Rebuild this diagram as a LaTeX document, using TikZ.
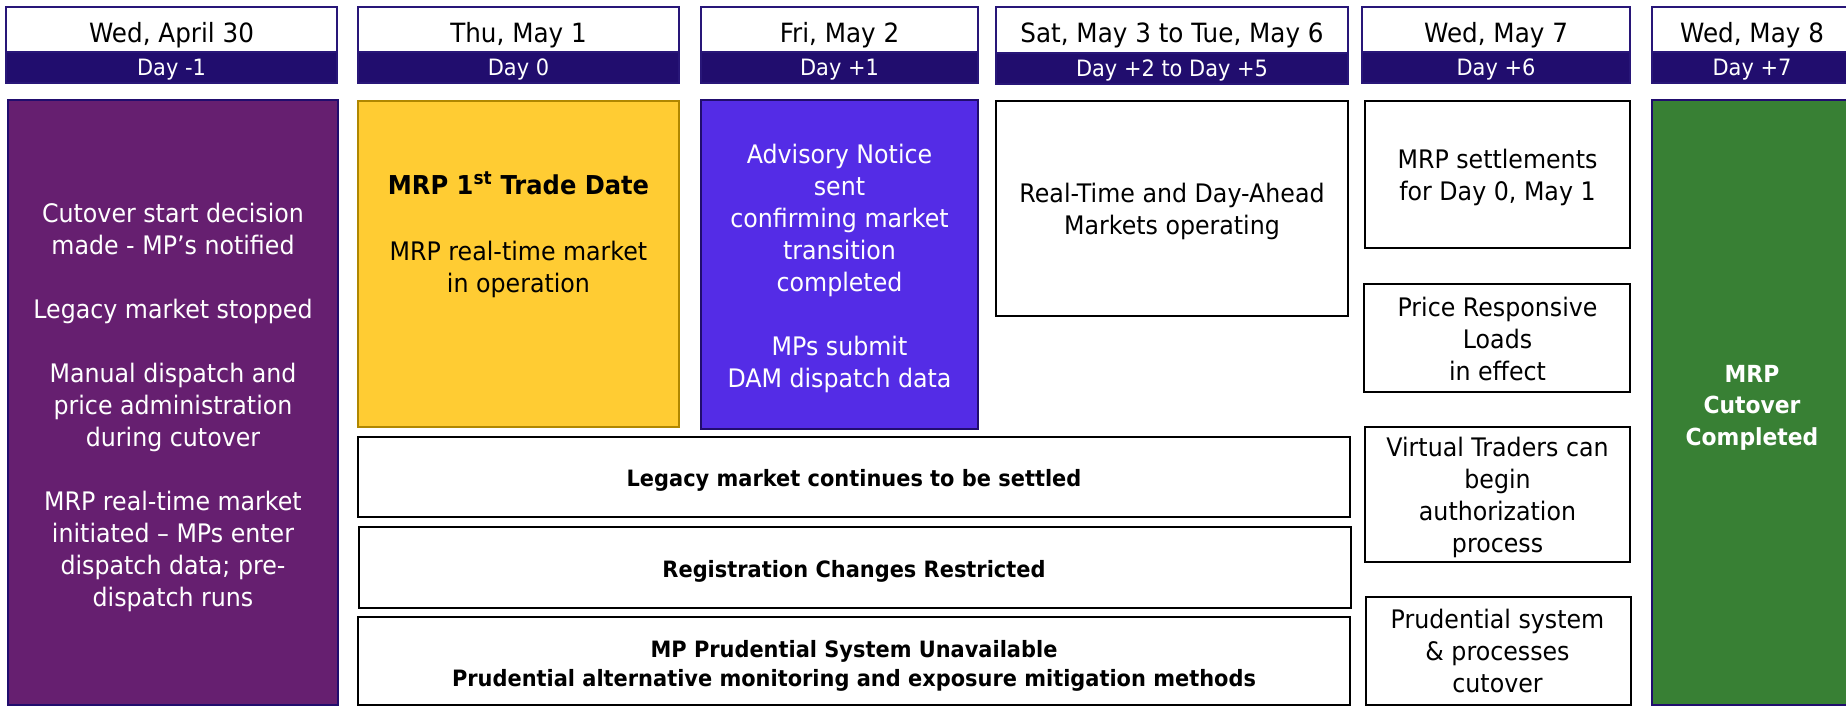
\documentclass[tikz,border=0pt]{standalone}
\usepackage{fontspec}
\setmainfont{DejaVu Sans}[FakeStretch=0.93]
\definecolor{navy}{RGB}{33,13,110}
\definecolor{navyedge}{RGB}{40,22,120}
\definecolor{purplebox}{RGB}{102,31,112}
\definecolor{yellowbox}{RGB}{255,204,51}
\definecolor{yellowedge}{RGB}{176,135,0}
\definecolor{bluebox}{RGB}{84,44,230}
\definecolor{greenbox}{RGB}{56,128,52}
\begin{document}
\begin{tikzpicture}[x=1pt,y=-1pt,
  shape box/.style={rectangle, inner sep=0pt, outer sep=0pt, anchor=north west},
  hdr/.style={shape box, draw=navyedge, line width=1.5pt, fill=white},
  dayband/.style={shape box, draw=navyedge, line width=1.5pt, fill=navy},
  wbox/.style={shape box, draw=black, line width=2pt, fill=white},
  pbox/.style={shape box, draw=navy, line width=2pt, fill=purplebox},
  ybox/.style={shape box, draw=yellowedge, line width=1.5pt, fill=yellowbox},
  bbox/.style={shape box, draw=navy, line width=2pt, fill=bluebox},
  gbox/.style={shape box, draw=navy, line width=2pt, fill=greenbox},
  datetxt/.style={anchor=base, inner sep=0pt, font=\fontsize{26.5}{32}\selectfont},
  daytxt/.style={anchor=base, inner sep=0pt, text=white, font=\fontsize{22.5}{28}\selectfont},
  bodytxt/.style={anchor=base, inner sep=0pt, align=center, font=\fontsize{25.5}{32}\selectfont},
  boldtxt/.style={anchor=base, inner sep=0pt, align=center, font=\fontsize{22.5}{29}\selectfont\bfseries},
]
\useasboundingbox (0,0) rectangle (1846,706);
\clip (0,0) rectangle (1846,706);

% headers
\node[hdr, minimum width=331pt, minimum height=76pt] (h1) at (6,7) {};
\node[hdr, minimum width=321pt, minimum height=76pt] (h2) at (358,7) {};
\node[hdr, minimum width=277pt, minimum height=76pt] (h3) at (701,7) {};
\node[hdr, minimum width=352pt, minimum height=76pt] (h4) at (996,7) {};
\node[hdr, minimum width=268pt, minimum height=76pt] (h5) at (1362,7) {};
\node[hdr, minimum width=200pt, minimum height=76pt] (h6) at (1652,7) {};

\node[dayband, minimum width=331pt, minimum height=31pt] (d1) at (6,52) {};
\node[dayband, minimum width=321pt, minimum height=31pt] (d2) at (358,52) {};
\node[dayband, minimum width=277pt, minimum height=31pt] (d3) at (701,52) {};
\node[dayband, minimum width=352pt, minimum height=31pt] (d4) at (996,53) {};
\node[dayband, minimum width=268pt, minimum height=31pt] (d5) at (1362,52) {};
\node[dayband, minimum width=200pt, minimum height=31pt] (d6) at (1652,52) {};

\node[datetxt] (t1) at (171.5,42.5) {Wed, April 30};
\node[datetxt] (t2) at (518.5,42.5) {Thu, May 1};
\node[datetxt] (t3) at (839.5,42.5) {Fri, May 2};
\node[datetxt] (t4) at (1172,42.5) {Sat, May 3 to Tue, May 6};
\node[datetxt] (t5) at (1496,42.5) {Wed, May 7};
\node[datetxt] (t6) at (1752,42.5) {Wed, May 8};

\node[daytxt] (y1) at (171.5,76) {Day -1};
\node[daytxt] (y2) at (518.5,76) {Day 0};
\node[daytxt] (y3) at (839.5,76) {Day +1};
\node[daytxt] (y4) at (1172,76.5) {Day +2 to Day +5};
\node[daytxt] (y5) at (1496,76) {Day +6};
\node[daytxt] (y6) at (1752,76) {Day +7};

% body boxes
\node[pbox, minimum width=330pt, minimum height=605pt] (purple) at (8,100) {};
\node[ybox, minimum width=321pt, minimum height=326pt] (yellow) at (358,101) {};
\node[bbox, minimum width=277pt, minimum height=329pt] (blue) at (701,100) {};
\node[wbox, minimum width=352pt, minimum height=215pt] (rt) at (996,101) {};
\node[wbox, minimum width=265pt, minimum height=147pt] (settle) at (1365,101) {};
\node[wbox, minimum width=266pt, minimum height=108pt] (prl) at (1364,284) {};
\node[wbox, minimum width=265pt, minimum height=135pt] (vt) at (1365,427) {};
\node[wbox, minimum width=265pt, minimum height=108pt] (prud) at (1366,597) {};
\node[gbox, minimum width=200pt, minimum height=605pt] (green) at (1652,100) {};
\node[wbox, minimum width=992pt, minimum height=80pt] (legacy) at (358,437) {};
\node[wbox, minimum width=992pt, minimum height=81pt] (reg) at (359,527) {};
\node[wbox, minimum width=992pt, minimum height=88pt] (mpp) at (358,617) {};

% body texts (anchor=base is the baseline of the last line)
\node[bodytxt, text=white] (purpletxt) at (173,606) {Cutover start decision\\made - MP’s notified\\[32pt]Legacy market stopped\\[32pt]Manual dispatch and\\price administration\\during cutover\\[32pt]MRP real-time market\\initiated – MPs enter\\dispatch data; pre-\\dispatch runs};
\node[boldtxt, font=\fontsize{26}{32}\selectfont\bfseries] (ytitle) at (518.5,194) {MRP 1\textsuperscript{st} Trade Date};
\node[bodytxt] (ytxt) at (518.5,292) {MRP real-time market\\in operation};
\node[bodytxt, text=white] (bluetxt) at (839.5,387) {Advisory Notice\\sent\\confirming market\\transition\\completed\\[32pt]MPs submit\\DAM dispatch data};
\node[bodytxt] (rttxt) at (1172,234) {Real-Time and Day-Ahead\\Markets operating};
\node[bodytxt] (settletxt) at (1497.5,200) {MRP settlements\\for Day 0, May 1};
\node[bodytxt] (prltxt) at (1497.5,380) {Price Responsive\\Loads\\in effect};
\node[bodytxt] (vttxt) at (1497.5,552) {Virtual Traders can\\begin\\authorization\\process};
\node[bodytxt] (prudtxt) at (1497.5,692) {Prudential system\\\& processes\\cutover};
\node[boldtxt, text=white, font=\fontsize{23.5}{31.5}\selectfont\bfseries] (greentxt) at (1752,445) {MRP\\Cutover\\Completed};
\node[boldtxt] (legacytxt) at (854,486) {Legacy market continues to be settled};
\node[boldtxt] (regtxt) at (854,577) {Registration Changes Restricted};
\node[boldtxt] (mpptxt) at (854,686) {MP Prudential System Unavailable\\Prudential alternative monitoring and exposure mitigation methods};
\end{tikzpicture}
\end{document}
